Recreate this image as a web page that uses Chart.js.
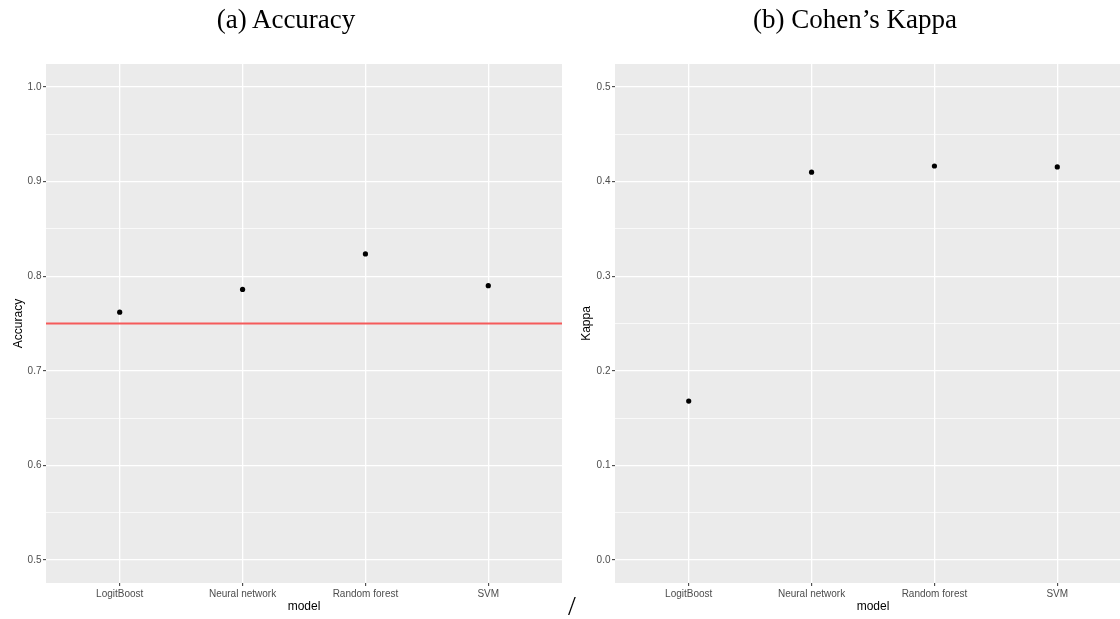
<!DOCTYPE html>
<html>
<head>
<meta charset="utf-8">
<script src="https://cdn.jsdelivr.net/npm/chart.js@4.4.0/dist/chart.umd.min.js"></script>
<style>
html, body { margin: 0; padding: 0; background: #fff; width: 1120px; height: 619px; overflow: hidden; }
#wrap { position: relative; width: 1120px; height: 619px; overflow: hidden; }
.box { position: absolute; top: 0; height: 619px; }
.cap { position: absolute; top: 6px; font-family: "Liberation Serif", "DejaVu Serif", serif; font-size: 27px; line-height: 27px; color: #000; white-space: nowrap; transform: translateX(-50%); }
#slash { position: absolute; left: 568px; top: 592px; font-family: "Liberation Serif", serif; font-size: 28px; line-height: 28px; }
</style>
</head>
<body>
<div id="wrap">
  <div class="box" style="left:0;width:562px"><canvas id="accChart"></canvas></div>
  <div class="box" style="left:562px;width:569px"><canvas id="kappaChart"></canvas></div>
  <div class="cap" style="left:286px">(a) Accuracy</div>
  <div class="cap" style="left:855px">(b) Cohen’s Kappa</div>
  <div id="slash">/</div>
</div>
<script>
// data
const models = ['LogitBoost', 'Neural network', 'Random forest', 'SVM'];
const accuracy = [0.762, 0.786, 0.8235, 0.790];
const kappa = [0.168, 0.410, 0.4165, 0.4155];
const accuracyLine = 0.75; // red reference line
const accuracyTicks = [0.5, 0.6, 0.7, 0.8, 0.9, 1.0];
const kappaTicks = [0.0, 0.1, 0.2, 0.3, 0.4, 0.5];

// grey ggplot panel behind the plot area
const panelBg = {
    id: 'panelBg',
    beforeDraw(chart) {
        const { ctx, chartArea: a } = chart;
        ctx.save();
        ctx.fillStyle = '#EBEBEB';
        ctx.fillRect(a.left, a.top, a.right - a.left, a.bottom - a.top);
        ctx.restore();
    }
};

const sans = 'Liberation Sans, Arial, sans-serif';

function makePanel(id, values, yTicks, yTitle, yAxisWidth, titlePad, refLine) {
    const step = yTicks[1] - yTicks[0];
    const yMin = yTicks[0] - step * 0.243;
    const yMax = yTicks[yTicks.length - 1] + step * 0.243;
    const minor = yTicks.slice(1).map((t, i) => (t + yTicks[i]) / 2);
    const allTicks = yTicks.concat(minor).sort((a, b) => a - b);
    const isMajor = v => yTicks.some(t => Math.abs(t - v) < 1e-9);

    const datasets = [{
        type: 'scatter',
        data: values.map((v, i) => ({ x: i + 1, y: v })),
        pointRadius: 2.6,
        pointBackgroundColor: '#000',
        pointBorderWidth: 0
    }];
    if (refLine !== undefined) {
        datasets.push({
            type: 'line',
            showLine: true,
            data: [{ x: 0.4, y: refLine }, { x: 4.6, y: refLine }],
            borderColor: 'rgb(245, 90, 90)',
            borderWidth: 1.8,
            pointRadius: 0
        });
    }

    return new Chart(document.getElementById(id), {
        type: 'scatter',
        data: { datasets: datasets },
        plugins: [panelBg],
        options: {
            responsive: true,
            maintainAspectRatio: false,
            animation: false,
            layout: { autoPadding: false, padding: { top: 64, left: 0, right: 0, bottom: 0 } },
            plugins: { legend: { display: false }, tooltip: { enabled: false } },
            scales: {
                x: {
                    type: 'linear',
                    min: 0.4,
                    max: 4.6,
                    afterBuildTicks: s => { s.ticks = models.map((m, i) => ({ value: i + 1 })); },
                    afterFit: s => { s.height = 36; s.paddingLeft = 0; s.paddingRight = 0; },
                    ticks: {
                        callback: v => models[Math.round(v) - 1],
                        color: '#4D4D4D',
                        font: { family: sans, size: 10 },
                        padding: 2,
                        maxRotation: 0,
                        autoSkip: false
                    },
                    grid: { color: '#FFFFFF', lineWidth: 1.3, tickLength: 3, tickColor: '#333333', tickWidth: 1 },
                    border: { display: false },
                    title: { display: true, text: 'model', color: '#000', font: { family: sans, size: 12 }, padding: { top: 0, bottom: 5 } }
                },
                y: {
                    type: 'linear',
                    min: yMin,
                    max: yMax,
                    afterBuildTicks: s => { s.ticks = allTicks.map(v => ({ value: v })); },
                    afterFit: s => { s.width = yAxisWidth; s.paddingTop = 0; s.paddingBottom = 0; },
                    ticks: {
                        callback: v => isMajor(v) ? v.toFixed(1) : '',
                        color: '#4D4D4D',
                        font: { family: sans, size: 10 },
                        padding: 1.5,
                        autoSkip: false
                    },
                    grid: {
                        color: '#FFFFFF',
                        lineWidth: c => isMajor(c.tick.value) ? 1.3 : 0.7,
                        tickLength: 3,
                        tickColor: c => isMajor(c.tick.value) ? '#333333' : 'rgba(0,0,0,0)',
                        tickWidth: 1
                    },
                    border: { display: false },
                    title: { display: true, text: yTitle, color: '#000', font: { family: sans, size: 12 }, padding: { top: titlePad, bottom: 0 } }
                }
            }
        }
    });
}

makePanel('accChart', accuracy, accuracyTicks, 'Accuracy', 46, 11, accuracyLine);
makePanel('kappaChart', kappa, kappaTicks, 'Kappa', 53, 17);
</script>
</body>
</html>
